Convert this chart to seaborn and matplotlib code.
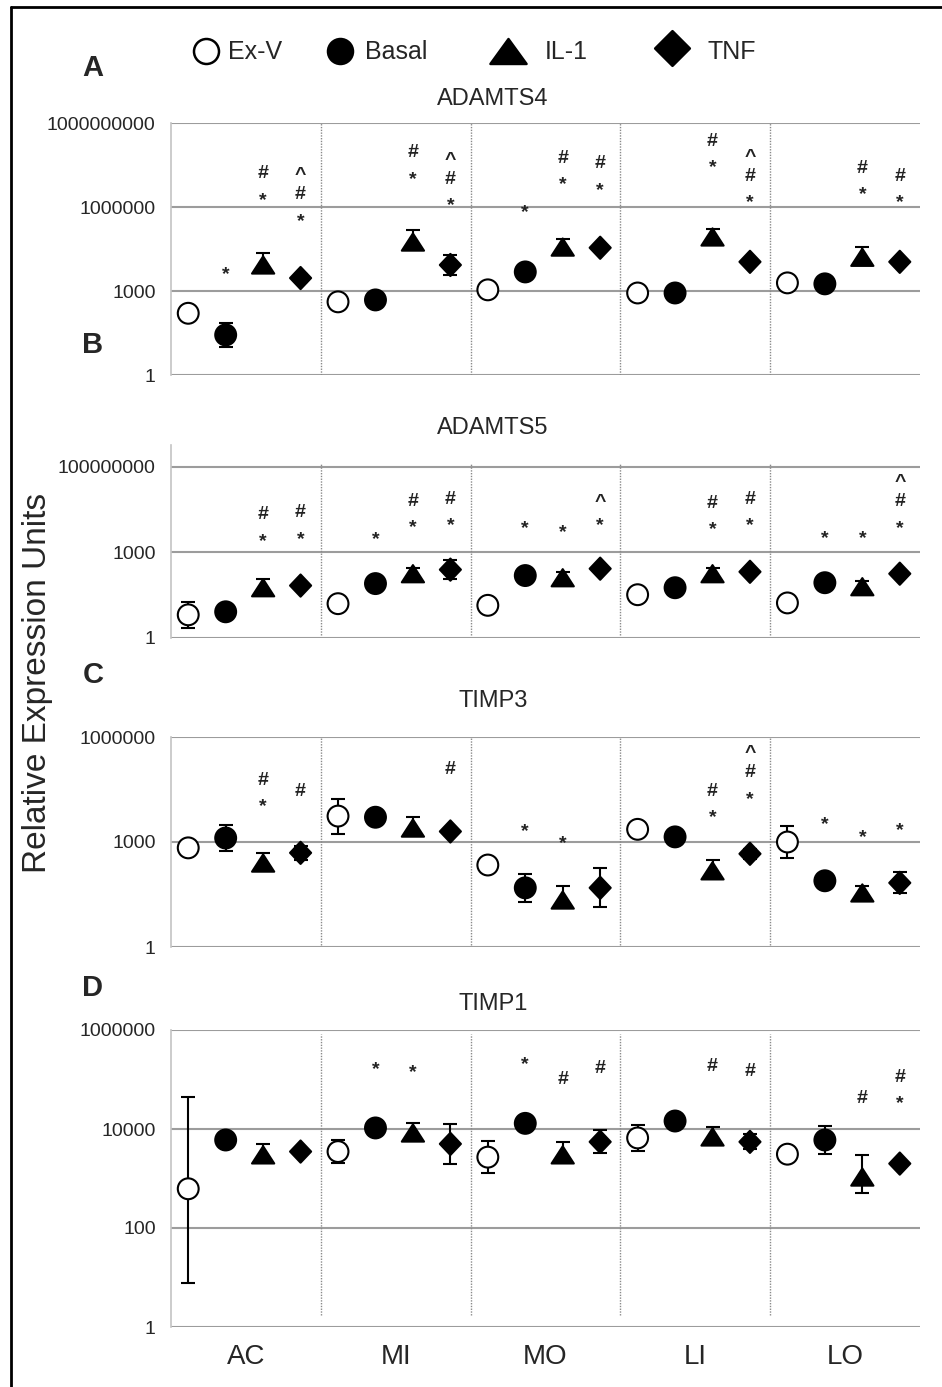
import numpy as np
import pandas as pd
import matplotlib
matplotlib.use('Agg')
import matplotlib.pyplot as plt
from matplotlib.path import Path
from matplotlib.lines import Line2D
from matplotlib.ticker import NullLocator
import seaborn as sns

regions = ["AC", "MI", "MO", "LI", "LO"]
groups = ["Ex-V", "Basal", "IL-1", "TNF"]

# mean relative expression per region, columns in order Ex-V, Basal, IL-1, TNF
adamts4 = [[160, 27, 8500, 2900],
           [410, 480, 56000, 8500],
           [1100, 4800, 37000, 35000],
           [850, 850, 85000, 11000],
           [1950, 1800, 16000, 11000]]
# error bars, upper and lower reach in decades
adamts4_up = [[0, 0.43, 0.43, 0.15],
              [0, 0.1, 0.43, 0.36],
              [0, 0.1, 0.3, 0.1],
              [0.05, 0.3, 0.3, 0.1],
              [0, 0.1, 0.36, 0.1]]
adamts4_lo = [[0, 0.43, 0.2, 0.15],
              [0, 0.1, 0.2, 0.36],
              [0, 0.1, 0.2, 0.1],
              [0.05, 0.3, 0.2, 0.1],
              [0, 0.1, 0.2, 0.1]]
# significance marks, written top to bottom, and the height of the lowest mark
adamts4_sig = [["", "*", "#*", "^#*"],
               ["", "", "#*", "^#*"],
               ["", "*", "#*", "#*"],
               ["", "", "#*", "^#*"],
               ["", "", "#*", "#*"]]
adamts4_sig_y = [[0, 6600, 2.9e6, 5.1e5],
                 [0, 0, 1.6e7, 1.8e6],
                 [0, 1.0e6, 1.0e7, 6.6e6],
                 [0, 0, 4.1e7, 2.3e6],
                 [0, 0, 4.4e6, 2.3e6]]

adamts5 = [[6.5, 8.3, 58, 69],
           [16, 81, 180, 250],
           [14, 155, 130, 270],
           [33, 58, 180, 210],
           [17, 87, 63, 180]]
adamts5_up = [[0.46, 0.1, 0.3, 0.1],
              [0.05, 0.1, 0.2, 0.34],
              [0.05, 0.1, 0.2, 0.1],
              [0.05, 0.05, 0.2, 0.1],
              [0.05, 0.1, 0.2, 0.1]]
adamts5_lo = [[0.46, 0.1, 0.15, 0.1],
              [0.05, 0.1, 0.15, 0.34],
              [0.05, 0.1, 0.15, 0.1],
              [0.05, 0.05, 0.15, 0.1],
              [0.05, 0.1, 0.15, 0.1]]
adamts5_sig = [["", "", "#*", "#*"],
               ["", "*", "#*", "#*"],
               ["", "*", "*", "^*"],
               ["", "", "#*", "#*"],
               ["", "*", "*", "^#*"]]
adamts5_sig_y = [[0, 0, 4000, 4700],
                 [0, 4700, 12000, 14500],
                 [0, 11500, 8300, 14500],
                 [0, 0, 10500, 14500],
                 [0, 5000, 5000, 11500]]

timp3 = [[680, 1300, 250, 490],
         [5500, 5100, 2500, 2000],
         [220, 49, 22, 49],
         [2300, 1400, 150, 460],
         [1000, 78, 35, 68]]
timp3_up = [[0.05, 0.36, 0.29, 0.2],
            [0.5, 0.1, 0.31, 0.1],
            [0.05, 0.4, 0.4, 0.56],
            [0.05, 0.05, 0.31, 0.15],
            [0.47, 0.15, 0.2, 0.3]]
timp3_lo = [[0.05, 0.36, 0.2, 0.2],
            [0.5, 0.1, 0.2, 0.1],
            [0.05, 0.4, 0.2, 0.56],
            [0.05, 0.05, 0.2, 0.15],
            [0.47, 0.15, 0.2, 0.3]]
timp3_sig = [["", "", "#*", "#"],
             ["", "", "", "#"],
             ["", "*", "*", ""],
             ["", "", "#*", "^#*"],
             ["", "*", "*", "*"]]
timp3_sig_y = [[0, 0, 15000, 31000],
               [0, 0, 0, 130000],
               [0, 2900, 1300, 0],
               [0, 0, 7200, 25000],
               [0, 4600, 1950, 3200]]

timp1 = [[620, 6000, 3000, 3500],
         [3500, 10500, 8300, 5000],
         [2700, 13000, 3000, 5500],
         [6600, 14500, 6900, 5500],
         [3100, 6000, 1070, 2000]]
timp1_up = [[1.86, 0.1, 0.22, 0.05],
            [0.24, 0.1, 0.2, 0.41],
            [0.32, 0.1, 0.26, 0.23],
            [0.27, 0.05, 0.2, 0.15],
            [0.05, 0.29, 0.44, 0.05]]
timp1_lo = [[1.9, 0.1, 0.15, 0.05],
            [0.24, 0.1, 0.15, 0.41],
            [0.32, 0.1, 0.15, 0.23],
            [0.27, 0.05, 0.15, 0.15],
            [0.05, 0.29, 0.32, 0.05]]
timp1_sig = [["", "", "", ""],
             ["", "*", "*", ""],
             ["", "*", "#", "#"],
             ["", "", "#", "#"],
             ["", "", "#", "#*"]]
timp1_sig_y = [[0, 0, 0, 0],
               [0, 2.1e5, 1.8e5, 0],
               [0, 2.6e5, 1.07e5, 1.8e5],
               [0, 0, 2.0e5, 1.6e5],
               [0, 0, 45000, 43000]]

ticks_a = [1, 1e3, 1e6, 1e9]
ticklabels_a = ["1", "1000", "1000000", "1000000000"]
ticks_b = [1, 1e3, 1e6]
ticklabels_b = ["1", "1000", "100000000"]
ticks_c = [1, 1e3, 1e6]
ticklabels_c = ["1", "1000", "1000000"]
ticks_d = [1, 100, 1e4, 1e6]
ticklabels_d = ["1", "100", "10000", "1000000"]

sns.set_style("white")
plt.rcParams['font.family'] = ['Liberation Sans', 'DejaVu Sans']

circle = Path.unit_circle()
triangle = Path([(0, 0.775), (-1, -0.775), (1, -0.775), (0, 0.775)], closed=True)
diamond = Path([(0, 1), (0.95, 0), (0, -1), (-0.95, 0), (0, 1)], closed=True)
# legend shapes are a bit wider
triangle_leg = Path([(0, 0.69), (-1, -0.69), (1, -0.69), (0, 0.69)], closed=True)
diamond_leg = Path([(0, 1), (1, 0), (0, -1), (-1, 0), (0, 1)], closed=True)

marker_map = {"Ex-V": circle, "Basal": circle, "IL-1": triangle, "TNF": diamond}
face_map = {"Ex-V": "white", "Basal": "black", "IL-1": "black", "TNF": "black"}
size_map = {"Ex-V": 15 ** 2, "Basal": 15 ** 2, "IL-1": 16 ** 2, "TNF": 16 ** 2}
# baseline drop so each glyph is centred on its anchor (points)
glyph_drop = {"#": 4.6, "*": 7.6, "^": 6.8}

fig = plt.figure(figsize=(9.42, 13.87), dpi=100)
H = 1387.0
W = 942.0
left, width = 171 / W, (920 - 171) / W

panels = [
    ("A", "ADAMTS4", adamts4, adamts4_up, adamts4_lo, adamts4_sig, adamts4_sig_y,
     (1, 1e9), ticks_a, ticklabels_a, (123, 375), (0.0, 1.0), 68, 99),
    ("B", "ADAMTS5", adamts5, adamts5_up, adamts5_lo, adamts5_sig, adamts5_sig_y,
     (1, 10 ** 6.77), ticks_b, ticklabels_b, (445, 638), (0.015, 0.905), 345, 428),
    ("C", "TIMP3", timp3, timp3_up, timp3_lo, timp3_sig, timp3_sig_y,
     (1, 1e6), ticks_c, ticklabels_c, (737, 947), (0.01, 1.0), 675, 701),
    ("D", "TIMP1", timp1, timp1_up, timp1_lo, timp1_sig, timp1_sig_y,
     (1, 1e6), ticks_d, ticklabels_d, (1030, 1327), (0.04, 0.985), 988, 1004),
]

for letter, title, vals, ups, los, sig, sig_y, ylim, ticks, tlabels, \
        (top, bot), (vmin, vmax), letter_y, title_y in panels:
    ax = fig.add_axes([left, (H - bot) / H, width, (bot - top) / H])

    rows = []
    for c, reg in enumerate(regions):
        for g, grp in enumerate(groups):
            rows.append({"region": reg, "group": grp, "x": c + 0.115 + 0.25 * g,
                         "value": vals[c][g], "up": ups[c][g], "lo": los[c][g]})
    df = pd.DataFrame(rows)

    # bars sit behind the open circles but on top of the black markers
    for grp, sub in df.groupby("group"):
        lo = sub["value"] - sub["value"] / 10 ** sub["lo"]
        up = sub["value"] * 10 ** sub["up"] - sub["value"]
        ax.errorbar(sub["x"], sub["value"], yerr=[lo, up], fmt="none", ecolor="black",
                    elinewidth=1.5, capsize=5, capthick=1.5,
                    zorder=2 if grp == "Ex-V" else 4)

    sns.scatterplot(data=df, x="x", y="value", hue="group", style="group",
                    size="group", markers=marker_map, palette=face_map, sizes=size_map,
                    edgecolor="black", linewidth=1.5, legend=False, ax=ax, zorder=3)

    ax.set_yscale("log")
    ax.set_ylim(*ylim)
    ax.set_xlim(0, 5)
    ax.set_yticks(ticks)
    ax.set_yticklabels(tlabels)
    ax.yaxis.set_minor_locator(NullLocator())
    ax.grid(axis="y", color="#9c9c9c", linewidth=1.5)
    ax.grid(axis="x", visible=False)
    ax.set_axisbelow(True)
    ax.tick_params(axis="y", length=9, width=1.5, color="#9c9c9c", labelsize=14, pad=2)
    for side in ["top", "right", "bottom"]:
        ax.spines[side].set_visible(False)
    ax.spines["left"].set_color("#c4c4c4")
    ax.spines["left"].set_linewidth(1.2)
    ax.set_xlabel("")
    ax.set_ylabel("")

    for c in range(1, 5):
        ax.axvline(c, vmin, vmax, color="#8a8a8a", linestyle=(0, (1, 1)), linewidth=1, zorder=1)

    for c in range(5):
        for g in range(4):
            marks = sig[c][g]
            if not marks:
                continue
            x = c + 0.115 + 0.25 * g
            for k, ch in enumerate(reversed(marks)):
                ax.annotate(ch, (x, sig_y[c][g]), xytext=(0, k * 16 - glyph_drop[ch]),
                            textcoords="offset points", ha="center", va="baseline",
                            fontsize=14, fontweight="bold", color="#222222",
                            annotation_clip=False)

    if letter == "D":
        ax.set_xticks([c + 0.5 for c in range(5)])
        ax.set_xticklabels(regions)
        ax.tick_params(axis="x", length=0, labelsize=20, pad=12)
    else:
        ax.set_xticks([])

    fig.text(93 / W, 1 - letter_y / H, letter, fontsize=21, fontweight="bold",
             ha="center", va="center")
    fig.text(493 / W, 1 - title_y / H, title, fontsize=17, ha="center", va="center")

fig.text(38 / W, 1 - 683 / H, "Relative Expression Units", rotation=90,
         fontsize=24, ha="center", va="center")

# legend row drawn by hand so the uneven gaps match
legend_items = [
    (206, 51, circle, 18, "white", 228),
    (340, 51, circle, 18, "black", 365),
    (508, 51, triangle_leg, 26, "black", 545),
    (672, 48, diamond_leg, 25, "black", 708),
]
for (mx, my, mk, ms, fc, tx), label in zip(legend_items, groups):
    fig.add_artist(Line2D([mx / W], [1 - my / H], transform=fig.transFigure,
                          linestyle="none", marker=mk, markersize=ms, markerfacecolor=fc,
                          markeredgecolor="black", markeredgewidth=1.8))
    fig.text(tx / W, 1 - 52 / H, label, fontsize=18, ha="left", va="center")

# frame of the figure panel
fig.add_artist(Line2D([11 / W, 1], [1 - 7 / H, 1 - 7 / H], color="black", linewidth=2))
fig.add_artist(Line2D([11 / W, 11 / W], [0, 1 - 7 / H], color="black", linewidth=2))

fig.savefig("out.png", dpi=100)
plt.close(fig)
